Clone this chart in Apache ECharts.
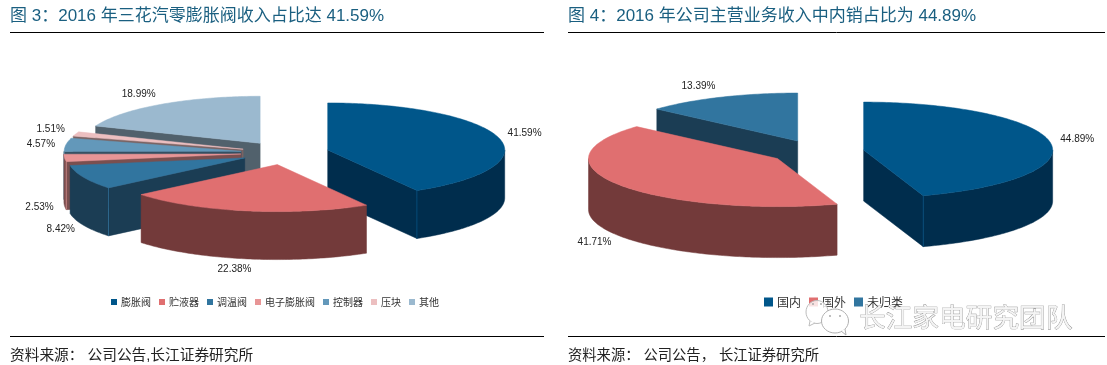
<!DOCTYPE html>
<html><head><meta charset="utf-8">
<style>html,body{margin:0;padding:0;background:#fff}#c{width:1107px;height:365px}</style>
<script src="https://cdn.jsdelivr.net/npm/echarts@6/dist/echarts.min.js"></script>
</head><body><div id="c"></div>
<script>
var categoriesA = ['膨胀阀','贮液器','调温阀','电子膨胀阀','控制器','压块','其他'];
var valuesA = [41.59,22.38,8.42,2.53,4.57,1.51,18.99];
var topColorsA = ['#00568a','#e06f70','#31759f','#e89596','#6398ba','#ecbfc0','#9bb9cf'];
var sideColorsA = ['#002d4d','#733a3a','#1b3d54','#7a4f4f','#344f61','#7b6464','#51616c'];
var labelOffsetsA = [[26,-4],[-12,58],[-23,52],[-25,49],[-25,-1],[-25,-5],[-22,-10]];

var categoriesB = ['国内','国外','未归类'];
var valuesB = [44.89,41.71,13.39];
var topColorsB = ['#00568a','#e06f70','#31759f'];
var sideColorsB = ['#002d4d','#733a3a','#1b3d54'];
var labelOffsetsB = [[27,-3],[-25,57],[-22,-11]];

var pieA = {cx:285,cy:153,rx:177,ry:47,depth:48,explode:0.25};
var pieB = {cx:817,cy:152,rx:189,ry:48,depth:51,explode:0.25};
var labelFont = '10px "Liberation Sans", Arial, sans-serif';
var cjk = '"Liberation Sans","Noto Sans CJK SC",sans-serif';

function rad(d){return d*Math.PI/180;}
function makeSeries(names,values,tops,sides,offsets,pie){
  var total = values.reduce(function(a,b){return a+b;},0), cum = 0, out = [];
  names.forEach(function(name,i){
    var a0 = cum/total*360; cum += values[i]; var a1 = cum/total*360; var mid=(a0+a1)/2;
    var ax = pie.cx + pie.explode*pie.rx*Math.sin(rad(mid));
    var ay = pie.cy - pie.explode*pie.ry*Math.cos(rad(mid));
    function rim(a,drop){return [ax+pie.rx*Math.sin(rad(a)), ay-pie.ry*Math.cos(rad(a))+(drop||0)];}
    out.push({
      type:'custom', name:name, coordinateSystem:'none', silent:true, animation:false, clip:false,
      z: 10 - Math.abs(mid-180)/100,
      itemStyle:{color:tops[i]},
      data:[[values[i]]],
      renderItem:function(params,api){
        var kids=[], d=pie.depth, side=sides[i], top=tops[i];
        function poly(pts,fill){kids.push({type:'polygon',shape:{points:pts},style:{fill:fill,stroke:fill,lineWidth:0.5}});}
        if(Math.sin(rad(a0))<-1e-6){ var r=rim(a0); poly([[ax,ay],r,[r[0],r[1]+d],[ax,ay+d]],side); }
        if(Math.sin(rad(a1))>1e-6){ var r2=rim(a1); poly([[ax,ay],r2,[r2[0],r2[1]+d],[ax,ay+d]],side); }
        var s=Math.max(a0,90), e=Math.min(a1,270);
        if(e>s){
          var upper=[],lower=[];
          for(var a=s;a<e;a+=1){upper.push(rim(a));lower.unshift(rim(a,d));}
          upper.push(rim(e));lower.unshift(rim(e,d));
          poly(upper.concat(lower),side);
        }
        var arc=[[ax,ay]];
        for(var b=a0;b<a1;b+=1){arc.push(rim(b));}
        arc.push(rim(a1));
        poly(arc,top);
        var edges=[];
        if(a1>90&&a1<180)edges.push(a1);
        if(a0>180&&a0<270)edges.push(a0);
        edges.forEach(function(g){var p=rim(g);
          kids.push({type:'line',shape:{x1:p[0],y1:p[1],x2:p[0],y2:p[1]+d},style:{stroke:top,lineWidth:1,opacity:0.7}});
        });
        var m=rim(mid);
        kids.push({type:'text',z2:100,style:{text:api.value(0).toFixed(2)+'%',x:m[0]+offsets[i][0],y:m[1]+offsets[i][1],
          fill:'#222',font:labelFont,align:'center',verticalAlign:'middle'}});
        return {type:'group',children:kids};
      }
    });
  });
  return out;
}

function rule(x1,x2,y){return {type:'line',silent:true,shape:{x1:x1,y1:y,x2:x2,y2:y},style:{stroke:'#000',lineWidth:1}};}

var chart = echarts.init(document.getElementById('c'),null,{renderer:'canvas'});
chart.setOption({
  backgroundColor:'#fff',
  animation:false,
  title:[
    {text:'图 3：2016 年三花汽零膨胀阀收入占比达 41.59%',left:5,top:3,textStyle:{fontSize:17,fontWeight:'normal',color:'#1a5f80',fontFamily:cjk}},
    {text:'图 4：2016 年公司主营业务收入中内销占比为 44.89%',left:563,top:3,textStyle:{fontSize:17,fontWeight:'normal',color:'#1a5f80',fontFamily:cjk}},
    {text:'资料来源： 公司公告,长江证券研究所',left:5,top:344,textStyle:{fontSize:14.7,fontWeight:'normal',color:'#222',fontFamily:cjk}},
    {text:'资料来源： 公司公告， 长江证券研究所',left:563,top:344,textStyle:{fontSize:14.3,fontWeight:'normal',color:'#222',fontFamily:cjk}}
  ],
  legend:[
    {data:categoriesA,left:106,top:292,icon:'rect',itemWidth:6,itemHeight:6,itemGap:8,selectedMode:false,
      textStyle:{fontSize:10,color:'#333',padding:[0,0,0,-1],fontFamily:'"Noto Sans CJK SC",sans-serif'}},
    {data:categoriesB,left:759,top:291,icon:'rect',itemWidth:9,itemHeight:9,itemGap:8,selectedMode:false,
      textStyle:{fontSize:12,color:'#333',padding:[0,0,0,-1],fontFamily:'"Noto Sans CJK SC",sans-serif'}}
  ],
  graphic:[
    rule(10,544,32.5),rule(568,1105,32.5),rule(10,544,336.5),rule(568,1105,336.5),
    {type:'ellipse',silent:true,z:50,shape:{cx:817,cy:312,rx:11,ry:11.5},style:{fill:'rgba(255,255,255,0.8)',stroke:'#bdbdbd',lineWidth:1}},
    {type:'polyline',silent:true,z:50,shape:{points:[[810,321],[809,326],[815,323]]},style:{fill:'#fff',stroke:'#bdbdbd',lineWidth:1}},
    {type:'ellipse',silent:true,z:51,shape:{cx:835,cy:321,rx:13.5,ry:12},style:{fill:'#fff',stroke:'#b0b0b0',lineWidth:1}},
    {type:'polyline',silent:true,z:51,shape:{points:[[841,331],[846,335],[845,329]]},style:{fill:'#fff',stroke:'#b0b0b0',lineWidth:1}},
    {type:'circle',silent:true,z:52,shape:{cx:830,cy:316,r:1},style:{fill:'#aaa'}},
    {type:'circle',silent:true,z:52,shape:{cx:840,cy:316,r:1},style:{fill:'#aaa'}},
    {type:'circle',silent:true,z:52,shape:{cx:813,cy:304,r:1},style:{fill:'#aaa'}},
    {type:'circle',silent:true,z:52,shape:{cx:821,cy:304,r:1},style:{fill:'#aaa'}},
    {type:'text',silent:true,z:52,style:{text:'长江家电研究团队',x:859,y:317,fill:'#f4f4f4',stroke:'#8a8a8a',lineWidth:0.7,
      font:'26.7px "Noto Sans CJK SC",sans-serif',align:'left',verticalAlign:'middle'}}
  ],
  series:makeSeries(categoriesA,valuesA,topColorsA,sideColorsA,labelOffsetsA,pieA)
    .concat(makeSeries(categoriesB,valuesB,topColorsB,sideColorsB,labelOffsetsB,pieB))
});
</script></body></html>
